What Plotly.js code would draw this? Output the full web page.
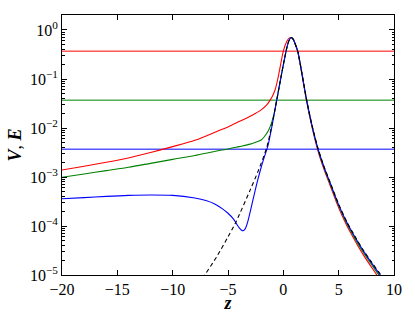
<!DOCTYPE html>
<html>
<head>
<meta charset="utf-8">
<script src="https://cdn.plot.ly/plotly-3.0.1.min.js"></script>
<style>
  html, body { margin: 0; padding: 0; background: #fff; }
  #chart { width: 415px; height: 313px; }
</style>
</head>
<body>
<div id="chart"></div>
<script>
// potential V(z), dashed black
const zV = [-8, -7.1, -6, -5, -4.37, -4, -3, -2.26, -1.5, -1.0, -0.6, -0.3, 0, 0.3, 0.5, 0.7, 0.9, 1.05, 1.3, 1.6, 2.11, 2.6, 3.16, 3.7, 4.22, 5.0, 5.73, 6.5, 7.23, 8.0, 8.73, 9.5, 10];
const valV = [5.0e-6, 1.0e-5, 2.4e-5, 6.0e-5, 1.1e-4, 1.66e-4, 5.4e-4, 1.35e-3, 4.0e-3, 1.26e-2, 3.7e-2, 8.5e-2, 0.195, 0.417, 0.60, 0.70, 0.646, 0.537, 0.372, 0.166, 0.037, 0.0112, 0.00367, 0.00158, 7.9e-4, 2.8e-4, 1.23e-4, 6.0e-5, 3.2e-5, 1.8e-5, 1.07e-5, 6.3e-6, 4.5e-6];

// red curve
const zRed = [-20, -18, -16, -14, -12, -10, -8, -6, -5, -4, -3, -2.5, -2, -1.5, -1.2, -1.0, -0.75, -0.5, -0.25, 0, 0.3, 0.5, 0.7, 0.9, 1.05, 1.3, 1.6, 2.11, 2.6, 3.16, 3.7, 4.22, 5.0, 5.73, 6.5, 7.23, 8.0, 8.73, 9.5, 10];
const valRed = [1.39e-3, 1.66e-3, 2.0e-3, 2.45e-3, 3.16e-3, 4.17e-3, 5.6e-3, 8.5e-3, 1.05e-2, 1.35e-2, 1.74e-2, 2.0e-2, 2.34e-2, 2.95e-2, 3.7e-2, 4.4e-2, 5.96e-2, 0.1, 0.195, 0.372, 0.575, 0.676, 0.70, 0.646, 0.53, 0.363, 0.158, 0.0347, 0.0102, 0.00324, 0.00138, 6.8e-4, 2.34e-4, 1.02e-4, 4.9e-5, 2.57e-5, 1.41e-5, 8.1e-6, 5.0e-6, 3.5e-6];

// green curve
const zGreen = [-20, -18, -16, -14, -12, -10, -8, -6, -5, -4, -3, -2.5, -2, -1.6, -1.3, -1.05, -0.8, -0.6, -0.3, 0, 0.3, 0.5, 0.7, 0.9, 1.05, 1.3, 1.6, 2.11, 2.6, 3.16, 3.7, 4.22, 5.0, 5.73, 6.5, 7.23, 8.0, 8.73, 9.5, 10];
const valGreen = [9.9e-4, 1.15e-3, 1.35e-3, 1.58e-3, 1.9e-3, 2.29e-3, 2.75e-3, 3.39e-3, 3.72e-3, 4.17e-3, 4.68e-3, 5.13e-3, 5.7e-3, 7.2e-3, 9.3e-3, 1.3e-2, 2.1e-2, 3.6e-2, 8.5e-2, 0.195, 0.417, 0.60, 0.70, 0.646, 0.537, 0.367, 0.162, 0.0359, 0.0107, 0.00347, 0.00148, 7.3e-4, 2.57e-4, 1.12e-4, 5.4e-5, 2.88e-5, 1.6e-5, 9.3e-6, 5.6e-6, 4.0e-6];

// blue curve
const zBlue = [-20, -18, -16, -14, -12, -10, -8, -7, -6.2, -5.5, -5.0, -4.5, -4.2, -4.0, -3.8, -3.65, -3.5, -3.35, -3.2, -2.9, -2.6, -2.3, -2.0, -1.7, -1.4, -1.2, -1.0, -0.8, -0.6, -0.3, 0, 0.3, 0.5, 0.7, 0.9, 1.05, 1.3, 1.6, 2.11, 2.6, 3.16, 3.7, 4.22, 5.0, 5.73, 6.5, 7.23, 8.0, 8.73, 9.5, 10];
const valBlue = [3.6e-4, 3.8e-4, 4.03e-4, 4.22e-4, 4.3e-4, 4.22e-4, 3.72e-4, 3.31e-4, 2.82e-4, 2.24e-4, 1.82e-4, 1.38e-4, 1.08e-4, 9.3e-5, 8.3e-5, 8.0e-5, 8.4e-5, 9.8e-5, 1.26e-4, 2.4e-4, 4.7e-4, 8.9e-4, 1.58e-3, 2.63e-3, 4.27e-3, 6.9e-3, 1.17e-2, 2.09e-2, 3.7e-2, 8.5e-2, 0.195, 0.417, 0.60, 0.70, 0.646, 0.537, 0.37, 0.164, 0.0365, 0.0111, 0.00358, 0.00154, 7.7e-4, 2.7e-4, 1.19e-4, 5.8e-5, 3.1e-5, 1.73e-5, 1.02e-5, 6.0e-6, 4.3e-6];

// energy levels
const levelE = [0.37, 0.037, 0.0037];
const levelColors = ['#ff0000', '#008000', '#0000ff'];
const zSpan = [-20, 10];

const yTickVals = [1e-5, 1e-4, 1e-3, 1e-2, 1e-1, 1];
const yTickText = ['10<sup>\u22125</sup>', '10<sup>\u22124</sup>', '10<sup>\u22123</sup>', '10<sup>\u22122</sup>', '10<sup>\u22121</sup>', '10<sup>0</sup>'];

const minorVals = [];
for (let e = -5; e <= 0; e++) {
    for (let d = 2; d <= 9; d++) minorVals.push(d * Math.pow(10, e));
}

const serif = '"Liberation Serif", "DejaVu Serif", serif';

const traces = [];
levelE.forEach((E, i) => {
    traces.push({
        x: zSpan, y: [E, E], type: 'scatter', mode: 'lines',
        line: { color: levelColors[i], width: 1 }, hoverinfo: 'skip'
    });
});

function curve(x, y, color, dash) {
    return {
        x: x, y: y, type: 'scatter', mode: 'lines',
        line: { color: color, width: 1.1, shape: 'spline', smoothing: 0.8, dash: dash || 'solid' }
    };
}
traces.push(curve(zRed, valRed, '#ff0000'));
traces.push(curve(zGreen, valGreen, '#008000'));
traces.push(curve(zBlue, valBlue, '#0000ff'));
traces.push(curve(zV, valV, '#000000', '4px,3px'));

const layout = {
    width: 415, height: 313,
    margin: { l: 62, r: 21, t: 15, b: 38 },
    paper_bgcolor: '#ffffff', plot_bgcolor: '#ffffff',
    showlegend: false,
    font: { family: serif, color: '#000', size: 16 },
    xaxis: {
        range: [-20, 10], tick0: 0, dtick: 5,
        ticks: 'inside', ticklen: 5, tickwidth: 1, tickcolor: '#000',
        showline: true, linecolor: '#000', linewidth: 1, mirror: 'allticks',
        showgrid: false, zeroline: false,
        tickfont: { family: serif, size: 16, color: '#000' },
        title: { text: '<b><i>z</i></b>', font: { family: serif, size: 18 }, standoff: 0 }
    },
    yaxis: {
        type: 'log', range: [-5, 0.306],
        tickmode: 'array', tickvals: yTickVals, ticktext: yTickText,
        ticks: 'inside', ticklen: 5, tickwidth: 1, tickcolor: '#000',
        minor: { tickmode: 'array', tickvals: minorVals, ticks: 'inside', ticklen: 2.5, tickcolor: '#000', showgrid: false },
        showline: true, linecolor: '#000', linewidth: 1, mirror: 'allticks',
        showgrid: false, zeroline: false,
        tickfont: { family: serif, size: 16, color: '#000' },
        title: { text: '<b><i>V</i></b>, <b><i>E</i></b>', font: { family: serif, size: 18 }, standoff: 3 }
    }
};

Plotly.newPlot('chart', traces, layout, { displayModeBar: false, staticPlot: true });
</script>
</body>
</html>
